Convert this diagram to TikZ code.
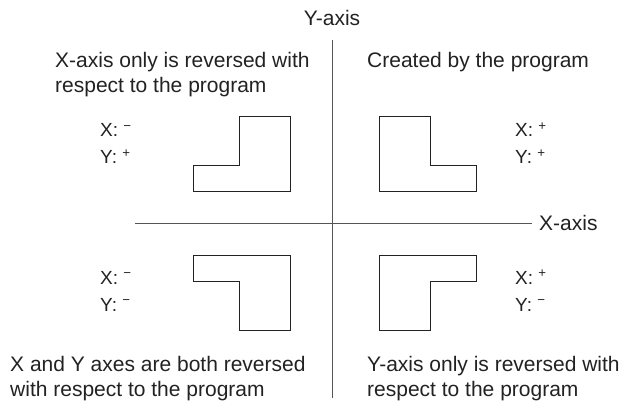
\documentclass[tikz,border=0pt]{standalone}
\usepackage{fontspec}
\setmainfont{Liberation Sans}
\usetikzlibrary{positioning}
\definecolor{axline}{HTML}{555555}
\definecolor{ink}{HTML}{222222}

\begin{document}
\begin{tikzpicture}[x=1pt, y=-1pt, font=\fontsize{21}{25}\selectfont,
  ax/.style={draw=axline, line width=0.9pt},
  shp/.style={draw=ink, line width=0.9pt, line join=miter},
  t/.style={inner sep=0pt, align=left, anchor=base west, text=ink},
  sg/.style={inner sep=0pt, align=left, anchor=base west, text=ink, font=\fontsize{19}{27}\selectfont}]
  \useasboundingbox (0,0) rectangle (619,401);
  % axes
  \coordinate (ytop) at (332,40);
  \coordinate (ybot) at (332,398);
  \coordinate (xl) at (135,223);
  \coordinate (xr) at (532,223);
  \draw[ax] (ytop)--(ybot);
  \draw[ax] (xl)--(xr);
  \node[t] (xlab) at (539,230) {X-axis};
  \node[t, anchor=base] (ylab) at (332,26) {Y-axis};
  % quadrant captions (anchored at last baseline)
  \node[t] (tl) at (55,93) {X-axis only is reversed with\\respect to the program};
  \node[t] (tr) at (367,68) {Created by the program};
  \node[t] (bl) at (10,396) {X and Y axes are both reversed\\with respect to the program};
  \node[t] (br) at (367,396) {Y-axis only is reversed with\\respect to the program};
  % signs
  \node[sg] (stl) at (100,164) {X: \textsuperscript{−}\\Y: \textsuperscript{+}};
  \node[sg] (str) at (515,164) {X: \textsuperscript{+}\\Y: \textsuperscript{+}};
  \node[sg] (sbl) at (100,311) {X: \textsuperscript{−}\\Y: \textsuperscript{−}};
  \node[sg] (sbr) at (515,311) {X: \textsuperscript{+}\\Y: \textsuperscript{−}};
  % shapes
  \draw[shp] (379,116)--(430,116)--(430,165)--(476,165)--(476,191)--(379,191)--cycle;
  \draw[shp] (290,116)--(239,116)--(239,165)--(193,165)--(193,191)--(290,191)--cycle;
  \draw[shp] (379,330)--(430,330)--(430,281)--(476,281)--(476,255)--(379,255)--cycle;
  \draw[shp] (290,330)--(239,330)--(239,281)--(193,281)--(193,255)--(290,255)--cycle;
\end{tikzpicture}
\end{document}
